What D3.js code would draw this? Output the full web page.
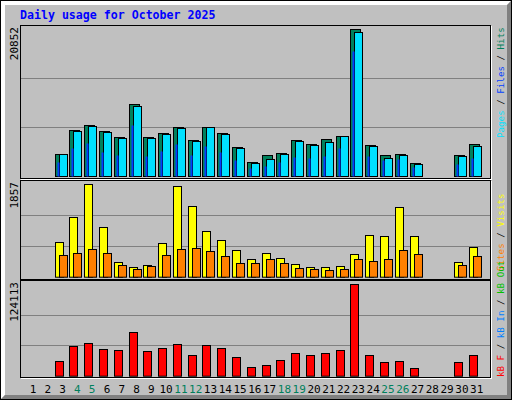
<!DOCTYPE html>
<html><head><meta charset="utf-8">
<script src="https://cdn.jsdelivr.net/npm/d3@7"></script>
<style>body{margin:0;background:#fff}</style></head>
<body><svg id="c" width="512" height="400"></svg>
<script>
const days = d3.range(1, 32);
const weekends = [4,5,11,12,18,19,25,26];
const dayLabels = days.map(String);
const hits  = [0,0,3149,6553,7263,6412,5561,10242,5561,6128,6979,5135,6979,6128,4142,2014,2908,3291,5135,4568,5277,5702,20852,4426,3007,3149,1872,0,0,3007,4568];
const files = [0,0,3149,6411,7121,6270,5419,9958,5419,5986,6837,4993,6979,5986,4000,1900,2482,3149,4993,4426,4852,5702,20427,4284,2582,3007,1730,0,0,2865,4284];
const pages = [0,0,1996,4000,4709,3433,3007,7262,2865,3575,4568,3007,4284,3433,2299,1163,1447,1996,2695,2553,2837,4000,17752,2837,2269,2411,1305,0,0,1730,2553];
const visits = [0,0,690,1193,1857,1006,288,201,228,670,1817,1415,912,731,530,349,469,369,248,188,188,208,449,831,811,1394,811,0,0,288,590];
const sites  = [0,0,429,469,550,469,228,147,208,429,550,570,510,409,268,268,349,268,168,147,127,147,349,309,349,530,449,0,0,228,409];
const kbF = [0,0,19478,39860,43938,35785,34426,58886,33067,37143,42579,27631,41220,37143,24913,11324,14042,20836,30349,27631,30349,34426,124113,27631,18119,19478,9965,0,0,18119,27631];
const maxLabels = ["20852","1857","124113"];

const svg = d3.select("#c");
const W=512,H=400;
svg.append("rect").attr("width",W).attr("height",H).attr("fill","#c0c0c0");
svg.append("path").attr("d","M0,0H512L507,5H5V395L0,400Z").attr("fill","#ffffff");
svg.append("path").attr("d","M512,0V400H0L5,395H507V5Z").attr("fill","#808080");
svg.append("rect").attr("x",0.5).attr("y",0.5).attr("width",511).attr("height",399).attr("fill","none").attr("stroke","#000");

svg.append("text").attr("x",20).attr("y",19).text("Daily usage for October 2025")
  .attr("font-family","DejaVu Sans Mono").attr("font-weight","bold").attr("font-size",11.6).attr("fill","#0000ff");

const x = d3.scaleLinear().domain([1,31]).range([33,476.7]);
const font = "DejaVu Sans Mono";

function panel(y0,y1,base,top,max,label){
  svg.append("rect").attr("x",20.5).attr("y",y0+0.5).attr("width",470).attr("height",y1-y0).attr("fill","none").attr("stroke","#000");
  svg.append("line").attr("x1",21).attr("x2",491).attr("y1",y1+1.5).attr("y2",y1+1.5).attr("stroke","#fff");
  svg.append("line").attr("x1",491.5).attr("x2",491.5).attr("y1",y0+1).attr("y2",y1+2).attr("stroke","#fff");
  const y = d3.scaleLinear().domain([0,max]).range([base,top]);
  [1/3,2/3].forEach(f=>{
    const yy=Math.round(y(max*f))+0.5;
    svg.append("line").attr("x1",21).attr("x2",490).attr("y1",yy).attr("y2",yy).attr("stroke","#808080");
  });
  svg.append("text").attr("transform",`translate(18,${y0+2}) rotate(-90)`).attr("text-anchor","end")
    .attr("font-family",font).attr("font-size",11).attr("fill","#000").text(label);
  return y;
}
function bars(y,data,dx0,dx1,fill,stroke){
  svg.append("g").selectAll("rect").data(days.filter((d,i)=>data[i]>0)).join("rect")
    .attr("x",d=>Math.round(x(d))+dx0+0.5).attr("width",dx1-dx0)
    .attr("y",d=>Math.round(y(data[d-1]))+0.5).attr("height",d=>Math.max(0,y(0)-Math.round(y(data[d-1]))))
    .attr("fill",fill).attr("stroke",stroke||"none");
}
const y1 = panel(25,178,176,29,20852,maxLabels[0]);
bars(y1,hits,-8,2,"#00805c","#000");
bars(y1,files,-4,4,"#00e0ff","#000");
bars(y1,pages,-6,-4,"#0040ff",null);
const y2 = panel(180,279,276.7,184.3,1857,maxLabels[1]);
bars(y2,visits,-8,0,"#ffff00","#000");
bars(y2,sites,-4,4,"#ff8000","#000");
const y3 = panel(280,377,375.7,284.3,124113,maxLabels[2]);
bars(y3,kbF,-8,0,"#ff0000","#000");

svg.append("g").selectAll("text").data(days).join("text")
  .attr("x",d=>x(d)).attr("y",393).attr("text-anchor","middle")
  .attr("font-family",font).attr("font-size",11)
  .attr("fill",d=>weekends.includes(d)?"#00805c":"#000").text((d,i)=>dayLabels[i]);

function legend(yStart,parts){
  const t=svg.append("text").attr("transform",`translate(504,${yStart}) rotate(-90)`)
    .attr("font-family",font).attr("font-size",9.2);
  parts.forEach(p=>t.append("tspan").attr("fill",p[1]).text(p[0]));
}
legend(138,[["Pages","#00e0ff"],[" / ","#000"],["Files","#0040ff"],[" / ","#000"],["Hits","#00805c"]]);
legend(271,[["Sites","#ff8000"],[" / ","#000"],["Visits","#ffff00"]]);
legend(377,[["kB F","#ff0000"],[" / ","#000"],["kB In","#0080ff"],[" / ","#000"],["kB Out","#00c000"]]);
</script></body></html>
